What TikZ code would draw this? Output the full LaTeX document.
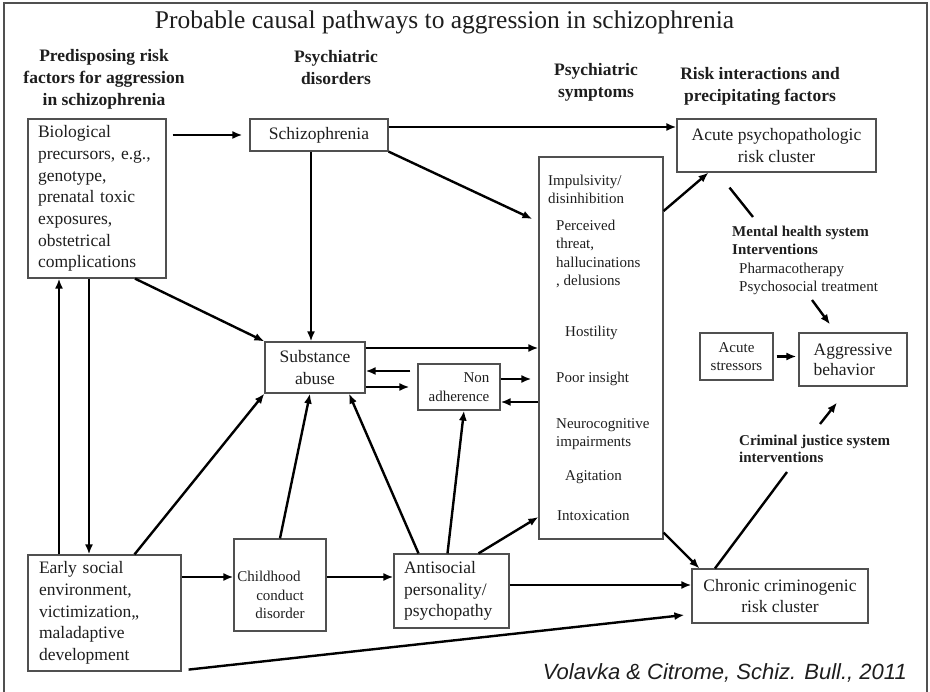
\documentclass[tikz,border=0pt]{standalone}
\usepackage{fontspec}
\setmainfont{Liberation Serif}
\newfontfamily\creditfont{Liberation Sans}
\usetikzlibrary{arrows.meta}

\definecolor{boxgray}{HTML}{505050}
\definecolor{txtgray}{HTML}{1E1E1E}

\newcommand{\boxfont}{\fontsize{17.5}{21.7}\selectfont}
\newcommand{\smallfont}{\fontsize{15}{18.5}\selectfont}
\newcommand{\headfont}{\fontsize{17.5}{22}\selectfont\bfseries}

\tikzset{
  box/.style={draw=boxgray, line width=1.2pt, inner sep=0pt, font=\boxfont, text=txtgray},
  txt/.style={inner sep=0pt, text=txtgray},
  arr/.style={line width=2.4pt, -{Latex[length=10pt,width=8pt]}},
  link/.style={line width=2.4pt},
  frame/.style={draw=boxgray, line width=1.2pt}
}

\begin{document}
\begin{tikzpicture}[x=1pt,y=-1pt]

    \useasboundingbox (0,0) rectangle (930,692);
    \draw[frame] (4,692) -- (4,3) -- (927,3) -- (927,692);

    % --- Title and column headings ---
    \node[txt, font=\fontsize{25.5}{30}\selectfont] (title) at (444.5,22)
        {Probable causal pathways to aggression in schizophrenia};
    \node[txt, font=\headfont, align=center] (hpre) at (104,79)
        {Predisposing risk\\factors for aggression\\in schizophrenia};
    \node[txt, font=\headfont, align=center] (hdis) at (336,68) {Psychiatric\\disorders};
    \node[txt, font=\headfont, align=center] (hsym) at (596,82) {Psychiatric\\symptoms};
    \node[txt, font=\headfont, align=center] (hrisk) at (760,86)
        {Risk interactions and\\precipitating factors};

    % --- Boxes ---
    \node[box, minimum width=138pt, minimum height=159pt, text width=118pt, align=left] (bio) at (97,198.5)
        {Biological\\precursors, e.g.,\\genotype,\\prenatal toxic\\exposures,\\obstetrical\\complications};
    \node[box, minimum width=138pt, minimum height=32pt] (schizo) at (319,135) {Schizophrenia};
    \node[box, minimum width=199pt, minimum height=53pt, align=center] (acute) at (776.5,145.5)
        {Acute psychopathologic\\risk cluster};
    \node[box, minimum width=124pt, minimum height=382pt] (symp) at (601,348) {};
    \node[box, minimum width=100pt, minimum height=51pt, align=center] (subst) at (315,367.5)
        {Substance\\abuse};
    \node[box, minimum width=82pt, minimum height=46pt, font=\smallfont, align=right] (nonad) at (459,387)
        {Non\\adherence};
    \node[box, minimum width=73pt, minimum height=47pt, font=\smallfont, align=center] (stress) at (736.5,356.5)
        {Acute\\stressors};
    \node[box, minimum width=108pt, minimum height=53pt, font=\fontsize{17.5}{20}\selectfont, align=left] (aggr) at (853,359.5)
        {Aggressive\\behavior};
    \node[box, minimum width=153pt, minimum height=116pt, text width=131pt, align=left] (early) at (104.5,613)
        {Early social\\environment,\\victimization,,\\maladaptive\\development};
    \node[box, minimum width=92pt, minimum height=92pt] (child) at (280,585) {};
    \node[box, minimum width=115pt, minimum height=74pt, text width=95pt, align=left] (anti) at (451.5,591)
        {Antisocial\\personality/\\psychopathy};
    \node[box, minimum width=176pt, minimum height=54pt, align=center] (chron) at (780,596)
        {Chronic criminogenic\\risk cluster};

    % --- Texts inside the symptom column and the child box ---
    \node[txt, font=\smallfont, align=left, anchor=west] (impul) at (548,189.5) {Impulsivity/\\disinhibition};
    \node[txt, font=\smallfont, align=left, anchor=west] (perc) at (556,254)
        {Perceived\\threat,\\hallucinations\\, delusions};
    \node[txt, font=\smallfont, anchor=west] (host) at (565,333) {Hostility};
    \node[txt, font=\smallfont, anchor=west] (poor) at (556,379) {Poor insight};
    \node[txt, font=\smallfont, align=left, anchor=west] (neuro) at (556,434) {Neurocognitive\\impairments};
    \node[txt, font=\smallfont, anchor=west] (agit) at (565,477) {Agitation};
    \node[txt, font=\smallfont, anchor=west] (intox) at (557,516) {Intoxication};
    \node[txt, font=\smallfont, align=center] (childtxt) at (280,595)
        {Childhood\hspace*{22pt}\\conduct\\disorder};

    % --- Intervention texts ---
    \node[txt, font=\fontsize{15}{18.3}\selectfont, align=left, anchor=west] (mhs) at (732,260.5)
        {\textbf{Mental health system}\\\textbf{Interventions}\\\hspace*{7pt}Pharmacotherapy\\\hspace*{7pt}Psychosocial treatment};
    \node[txt, font=\fontsize{15}{17}\selectfont\bfseries, align=left, anchor=west] (cjs) at (739,448.5)
        {Criminal justice system\\interventions};
    \node[txt, font=\creditfont\fontsize{22}{26}\selectfont\itshape, anchor=east] (cite) at (907,673)
        {Volavka \& Citrome, Schiz. Bull., 2011};

    % free ends next to the intervention texts
    \coordinate (mhend) at (753,217);
    \coordinate (mhout) at (812,300);
    \coordinate (cjout) at (820,424);
    \coordinate (cjin) at (787,472);

    % --- Top row ---
    \draw[arr] ([xshift=6pt]bio.east |- schizo.west) -- ([xshift=-7pt]schizo.west);
    \draw[arr] ([yshift=8pt]schizo.east) -- ([yshift=8pt]schizo.east -| acute.west);
    \draw[arr] (schizo.south east) -- ([xshift=-6pt,yshift=129pt]symp.west);
    \draw[arr] ([xshift=-8pt]schizo.south) -- ([xshift=-8pt]schizo.south |- subst.north);

    % --- Left column ---
    \draw[arr] ([xshift=38pt]bio.south) -- (subst.north west);
    \draw[arr] ([xshift=-8pt]bio.south) -- ([xshift=-8pt]bio.south |- early.north);
    \draw[arr] ([xshift=-38pt]bio.south |- early.north) -- ([xshift=-38pt]bio.south);

    % --- Into substance abuse ---
    \draw[arr] ([xshift=30pt]early.north) -- (subst.south west);
    \draw[arr] (child.north) -- ([xshift=-5pt]subst.south);
    \draw[arr] ([xshift=-33pt]anti.north) -- ([xshift=34pt]subst.south);

    % --- Substance abuse, non adherence and symptoms ---
    \draw[arr] ([yshift=19.5pt]subst.east) -- ([yshift=19.5pt]subst.east -| symp.west);
    \draw[arr] ([xshift=-7pt,yshift=16pt]nonad.west) -- ([yshift=16pt]nonad.west -| subst.east);
    \draw[arr] ([yshift=-19.5pt]subst.east) -- ([xshift=-8pt,yshift=-19.5pt]subst.east -| nonad.west);
    \draw[arr] ([yshift=8pt]nonad.east) -- ([xshift=-7pt,yshift=8pt]nonad.east -| symp.west);
    \draw[arr] ([yshift=-15pt]nonad.east -| symp.west) -- ([yshift=-15pt]nonad.east);

    % --- Bottom row ---
    \draw[arr] ([yshift=36pt]early.east) -- ([yshift=36pt]early.east -| child.west);
    \draw[arr] ([yshift=8pt]child.east) -- ([yshift=8pt]child.east -| anti.west);
    \draw[arr] ([yshift=6pt]anti.east) -- ([yshift=6pt]anti.east -| chron.west);
    \draw[arr] ([xshift=7pt,yshift=2pt]early.south east) -- ([xshift=-7pt,yshift=-19pt]chron.west);
    \draw[arr] ([xshift=-4pt]anti.north) -- ([xshift=5pt]nonad.south);
    \draw[arr] ([xshift=27pt]anti.north) -- ([yshift=-169pt]symp.west);

    % --- Risk clusters and aggressive behavior ---
    \draw[arr] ([yshift=137pt]symp.east) -- ([xshift=-68pt]acute.south);
    \draw[arr] ([yshift=7pt]symp.south east) -- ([xshift=8pt]chron.north west);
    \draw[link] ([xshift=-47pt,yshift=-15pt]acute.south) -- (mhend);
    \draw[arr] (mhout) -- ([xshift=-23pt,yshift=8pt]aggr.north);
    \draw[arr] ([xshift=3pt]stress.east) -- ([xshift=-2pt]stress.east -| aggr.west);
    \draw[arr] (cjout) -- ([xshift=-16pt,yshift=-16pt]aggr.south);
    \draw[link] ([xshift=-65pt]chron.north) -- (cjin);

\end{tikzpicture}
\end{document}
